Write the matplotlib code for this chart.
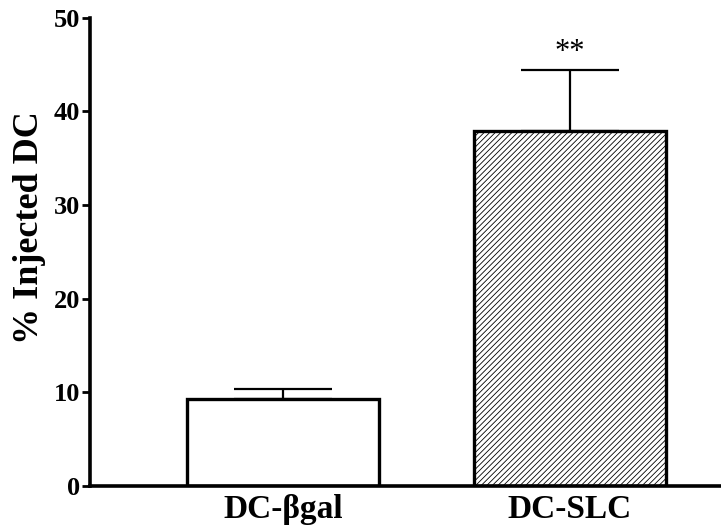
import numpy as np
import matplotlib.pyplot as plt

plt.rcParams['font.family'] = ['Liberation Serif', 'DejaVu Serif']
plt.rcParams['font.weight'] = 'bold'
plt.rcParams['hatch.linewidth'] = 0.6

groups = ['DC-βgal', 'DC-SLC']
means = [9.3, 37.9]
sem = [1.1, 6.5]
hatches = ['', '//////']

fig = plt.figure(figsize=[7.21, 5.32], dpi=100)
ax = fig.add_axes([0.125, 0.0865, 0.875, 0.88])

x = np.arange(len(groups))
ax.errorbar(x, means, yerr=[np.zeros(len(sem)), sem], fmt='none',
            ecolor='black', elinewidth=1.6, capsize=35, capthick=1.6, zorder=1)
for xi, m, h in zip(x, means, hatches):
    ax.bar(xi, m, width=0.67, color='white', edgecolor='black',
           linewidth=2.4, hatch=h, zorder=2)

# significance marker above the SLC bar
ax.text(x[1], means[1] + sem[1] + 0.4, '**', ha='center', va='bottom',
        fontsize=22, fontweight='normal')

ax.set_xlim(-0.672, 1.526)
ax.set_ylim(0, 50)
ax.set_yticks([0, 10, 20, 30, 40, 50])
ax.set_xticks(x)
ax.set_xticklabels(groups, fontsize=24)
ax.tick_params(axis='x', length=0, pad=6)
ax.tick_params(axis='y', length=6, width=2, labelsize=19, pad=1)
ax.set_ylabel('% Injected DC', fontsize=26, fontweight='bold')
ax.yaxis.set_label_coords(-0.07, 0.551)

for side in ['top', 'right']:
    ax.spines[side].set_visible(False)
for side in ['left', 'bottom']:
    ax.spines[side].set_linewidth(2.6)

plt.savefig('out.png', dpi=100)
